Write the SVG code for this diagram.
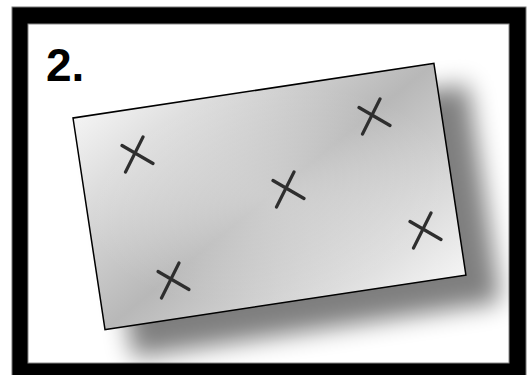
<svg xmlns="http://www.w3.org/2000/svg" width="527" height="375" viewBox="0 0 527 375">
  <style>
    .mark { stroke: #2e2e2e; stroke-width: 3.2; stroke-linecap: round; fill: none; }
    .label { font-family: "Liberation Sans", Arial, sans-serif; font-weight: bold; font-size: 46px; fill: #000; }
  </style>
  <defs>
    <linearGradient id="metal" x1="0" y1="0" x2="1" y2="1">
      <stop offset="0" stop-color="#f4f4f4"/>
      <stop offset="0.5" stop-color="#b8b8b8"/>
      <stop offset="1" stop-color="#f4f4f4"/>
    </linearGradient>
    <radialGradient id="glow" cx="0.5" cy="0.5" r="0.5">
      <stop offset="0" stop-color="#ffffff" stop-opacity="0.3"/>
      <stop offset="1" stop-color="#ffffff" stop-opacity="0"/>
    </radialGradient>
    <filter id="blur" x="-40%" y="-40%" width="180%" height="180%">
      <feGaussianBlur stdDeviation="12"/>
    </filter>
    <filter id="soft" x="-20%" y="-20%" width="140%" height="140%">
      <feGaussianBlur stdDeviation="0.4"/>
    </filter>
    <g id="x">
      <line x1="-13" y1="-7.5" x2="18" y2="10.5"/>
      <line x1="8" y1="-16" x2="-9.5" y2="19"/>
    </g>
  </defs>

  <g id="frame">
    <rect x="12" y="7" width="514" height="380" fill="#000" stroke="#777" stroke-width="1"/>
    <rect x="28" y="24" width="481" height="339" fill="#fff" stroke="#888" stroke-width="1"/>
  </g>

  <g id="label">
    <text class="label" x="46" y="81">2.</text>
  </g>

  <g id="card">
    <g transform="translate(100,140) rotate(-8.6)">
      <rect x="0" y="0" width="372" height="220" fill="#000" opacity="0.5" filter="url(#blur)"/>
    </g>
    <g transform="translate(73,118) rotate(-8.6)">
      <rect x="0" y="0" width="365" height="214" fill="url(#metal)"/>
      <rect x="0" y="0" width="365" height="214" fill="url(#glow)" stroke="#000" stroke-width="1.5"/>
    </g>
  </g>

  <g id="marks" class="mark" filter="url(#soft)">
    <use href="#x" x="135" y="153"/>
    <use href="#x" x="372" y="115"/>
    <use href="#x" x="286" y="188"/>
    <use href="#x" x="423" y="229"/>
    <use href="#x" x="171" y="279"/>
  </g>
</svg>
